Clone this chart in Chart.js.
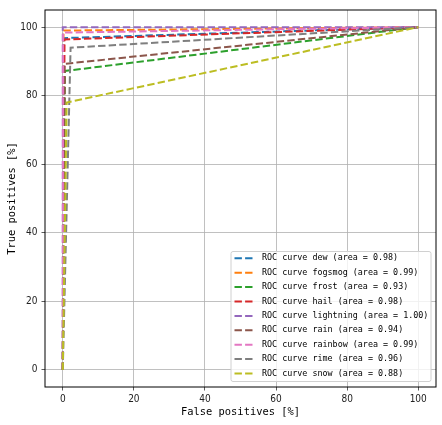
<!DOCTYPE html>
<html lang="en">
<head>
<meta charset="UTF-8">
<title>ROC curves</title>
<script src="https://cdn.jsdelivr.net/npm/chart.js@4.4.0/dist/chart.umd.min.js"></script>
<style>
  body { margin: 0; background: #fff; }
</style>
</head>
<body>
<canvas id="chart" width="442" height="425"></canvas>
<script>
const classes = ['dew', 'fogsmog', 'frost', 'hail', 'lightning', 'rain', 'rainbow', 'rime', 'snow'];
const areas = ['0.98', '0.99', '0.93', '0.98', '1.00', '0.94', '0.99', '0.96', '0.88'];
// false / true positive rate at each threshold, in percent
const fprs = [
  [0, 0.3, 100],
  [0, 0.2, 100],
  [0, 0.6, 100],
  [0, 0.5, 100],
  [0, 0.0, 100],
  [0, 0.5, 100],
  [0, 0.1, 100],
  [0, 2.2, 100],
  [0, 1.1, 100]
];
const tprs = [
  [0, 96.8, 100],
  [0, 99.0, 100],
  [0, 87.2, 100],
  [0, 96.4, 100],
  [0, 100, 100],
  [0, 89.3, 100],
  [0, 98.4, 100],
  [0, 94.0, 100],
  [0, 78.0, 100]
];
const colors = ['#1f77b4', '#ff7f0e', '#2ca02c', '#d62728', '#9467bd', '#8c564b', '#e377c2', '#7f7f7f', '#bcbd22'];
const xTicks = [0, 20, 40, 60, 80, 100];
const yTicks = [0, 20, 40, 60, 80, 100];

const tickFont = { family: '"Liberation Sans Narrow", "DejaVu Sans Condensed", "DejaVu Sans", sans-serif', size: 10 };
const titleFont = { family: '"DejaVu Sans Mono", monospace', size: 10.4 };

// black frame round the plot, like matplotlib spines
const frame = {
  id: 'frame',
  afterDatasetsDraw(chart) {
    const { ctx, chartArea: a } = chart;
    ctx.save();
    ctx.strokeStyle = '#000';
    ctx.lineWidth = 1;
    ctx.strokeRect(a.left, a.top, a.right - a.left, a.bottom - a.top);
    ctx.restore();
  }
};

// legend box in the lower right corner
const legendBox = {
  id: 'legendBox',
  afterDraw(chart) {
    const { ctx, chartArea } = chart;
    const w = 200, h = 130;
    const x = chartArea.right - 5 - w, y = chartArea.bottom - 5.5 - h;
    ctx.save();
    ctx.beginPath();
    ctx.roundRect(x, y, w, h, 2);
    ctx.fillStyle = 'rgba(255,255,255,0.8)';
    ctx.fill();
    ctx.strokeStyle = '#d0d0d0';
    ctx.lineWidth = 1;
    ctx.stroke();
    ctx.font = '8.4px "DejaVu Sans Mono", monospace';
    ctx.textBaseline = 'middle';
    chart.data.datasets.forEach((ds, i) => {
      const cy = y + 6.8 + i * 14.4;
      ctx.strokeStyle = ds.borderColor;
      ctx.lineWidth = 2;
      ctx.setLineDash([7.4, 3.2]);
      ctx.beginPath();
      ctx.moveTo(x + 3.5, cy);
      ctx.lineTo(x + 21.5, cy);
      ctx.stroke();
      ctx.setLineDash([]);
      ctx.fillStyle = '#000';
      ctx.fillText(ds.label, x + 31, cy);
    });
    ctx.restore();
  }
};

const datasets = classes.map((c, i) => ({
  label: `ROC curve ${c} (area = ${areas[i]})`,
  data: fprs[i].map((f, j) => ({ x: f, y: tprs[i][j] })),
  borderColor: colors[i],
  backgroundColor: colors[i],
  borderWidth: 2,
  borderDash: [7.4, 3.2],
  pointRadius: 0,
  showLine: true,
  fill: false,
  order: classes.length - i
}));

new Chart(document.getElementById('chart').getContext('2d'), {
  type: 'scatter',
  data: { datasets },
  plugins: [frame, legendBox],
  options: {
    responsive: false,
    animation: false,
    layout: { padding: { left: 0, top: 7, right: 6, bottom: 0 } },
    plugins: { legend: { display: false }, tooltip: { enabled: false } },
    scales: {
      x: {
        type: 'linear',
        min: -5,
        max: 105,
        afterBuildTicks: s => { s.ticks = xTicks.map(v => ({ value: v })); },
        afterFit: s => { s.height = 38; },
        grid: { color: '#b0b0b0', lineWidth: 0.8, tickColor: '#333', tickLength: 3.5 },
        border: { display: false },
        ticks: { font: tickFont, color: '#222', padding: 3, maxRotation: 0 },
        title: { display: true, text: 'False positives [%]', font: titleFont, color: '#000', padding: { top: 0, bottom: 6.3 } }
      },
      y: {
        type: 'linear',
        min: -5,
        max: 105,
        afterBuildTicks: s => { s.ticks = yTicks.map(v => ({ value: v })); },
        afterFit: s => { s.width = 45; },
        grid: { color: '#b0b0b0', lineWidth: 0.8, tickColor: '#333', tickLength: 3.5 },
        border: { display: false },
        ticks: { font: tickFont, color: '#222', padding: 4 },
        title: { display: true, text: 'True positives [%]', font: titleFont, color: '#000', padding: { top: 6.5, bottom: 0 } }
      }
    }
  }
});
</script>
</body>
</html>
